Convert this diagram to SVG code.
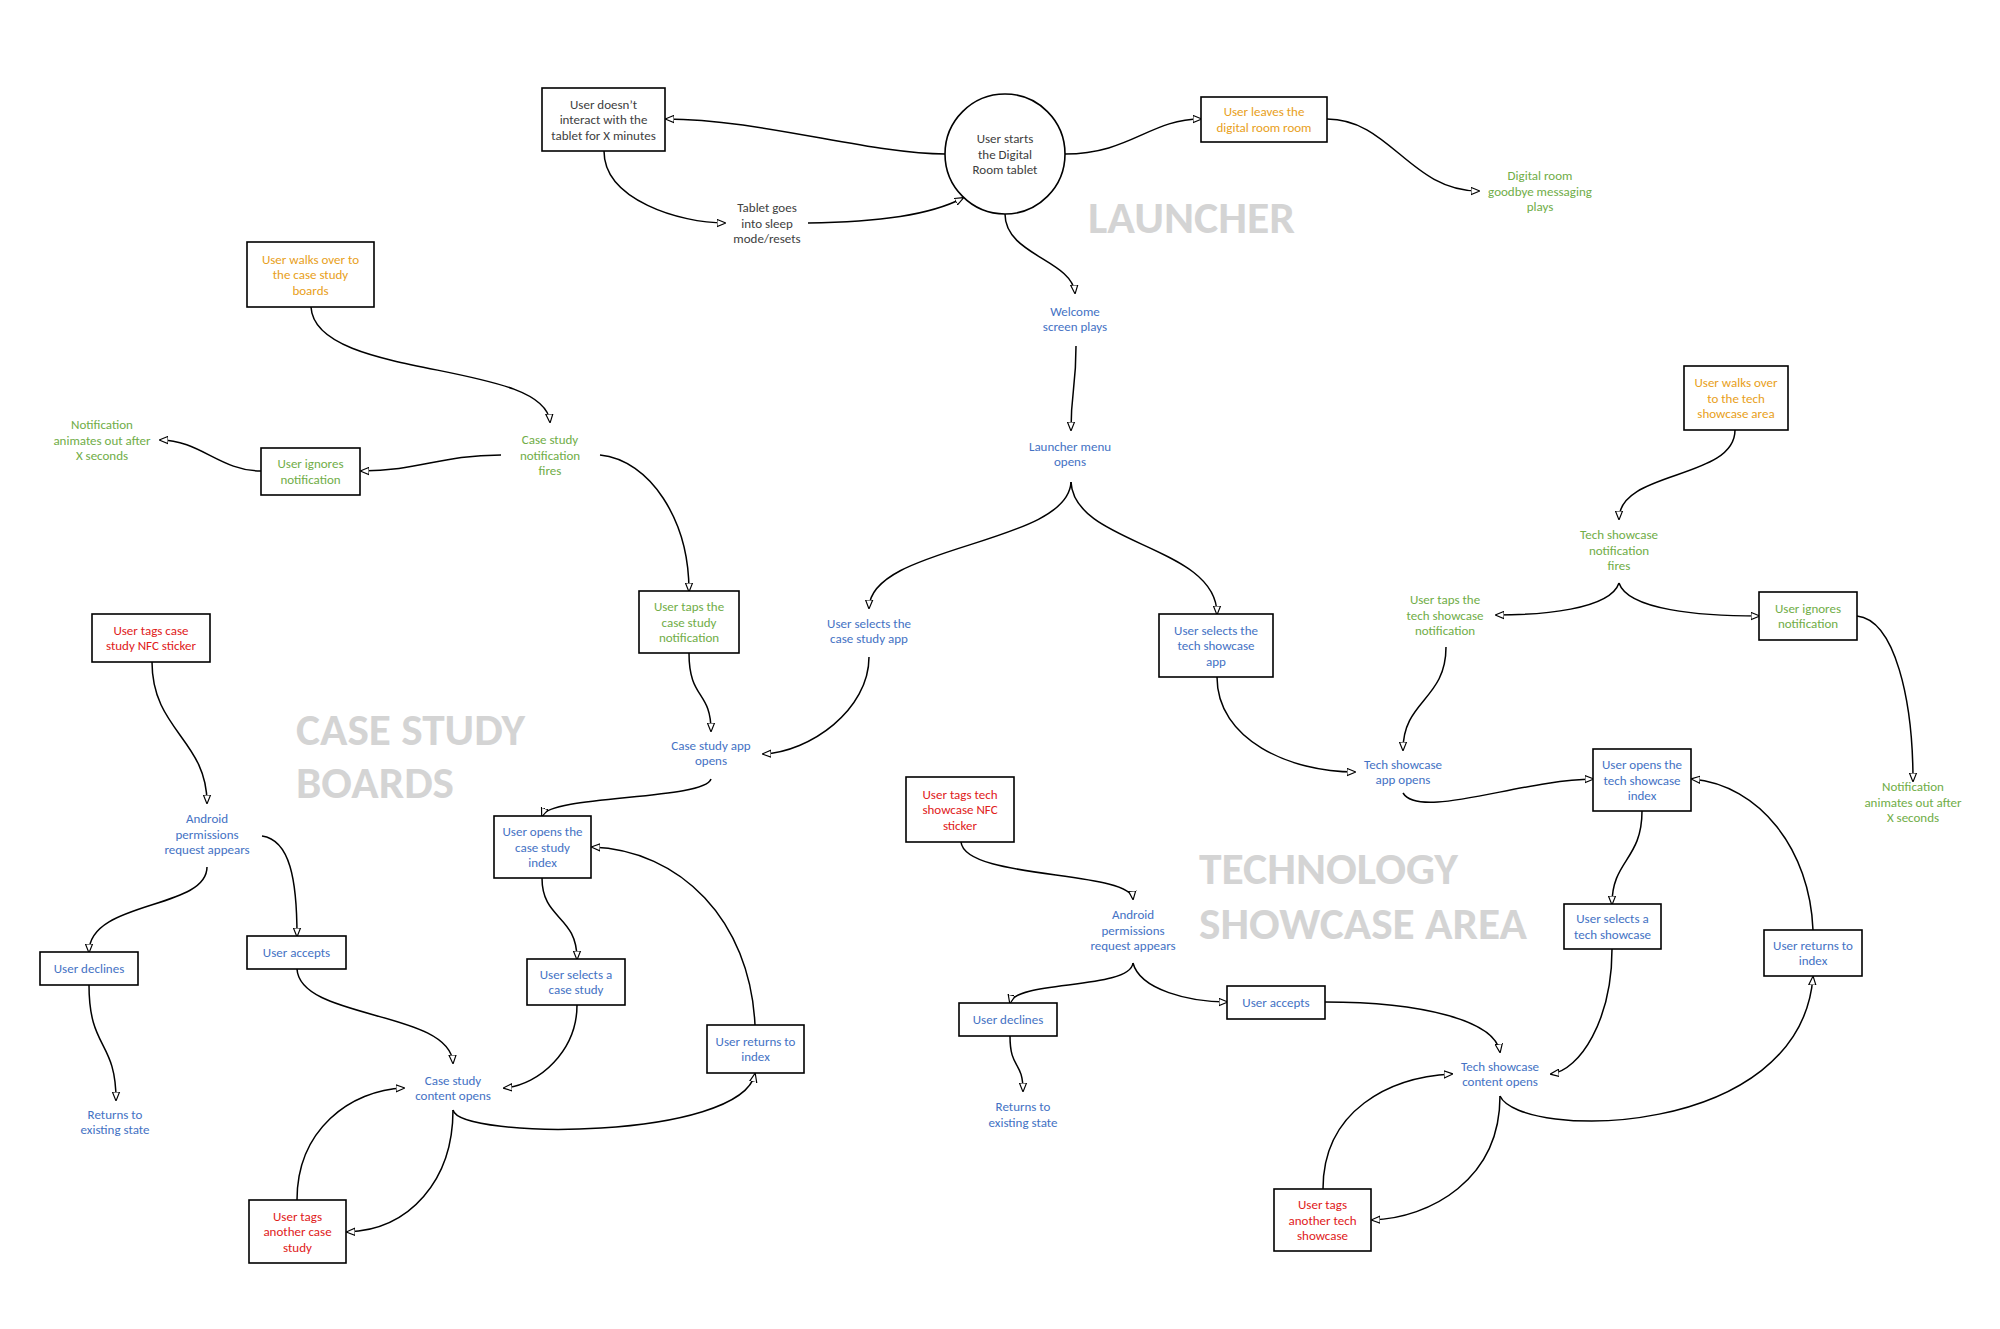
<svg xmlns="http://www.w3.org/2000/svg" width="2000" height="1329" viewBox="0 0 2000 1329">
<style>
text{font-family:Carlito,Lato,"Open Sans",sans-serif;font-size:13px;text-anchor:middle}
.hd{font-weight:bold;font-size:44px;fill:#d4d4d4;text-anchor:start}
.bx{fill:#fff;stroke:#000;stroke-width:1.6}
.gy{fill:#404040}.or{fill:#e8a020}.gr{fill:#70ad47}.bl{fill:#4472c4}.rd{fill:#e0201a}
#connectors path{fill:none;stroke:#000;stroke-width:1.5;marker-end:url(#arr)}
</style>
<defs>
<marker id="arr" viewBox="0 0 10 10" refX="9" refY="5" markerWidth="9" markerHeight="9" markerUnits="userSpaceOnUse" orient="auto">
<path d="M0,1 L10,5 L0,9 z" fill="#fff" stroke="#000" stroke-width="1.3"/>
</marker>
</defs>
<rect width="2000" height="1329" fill="#fff"/>
<g id="headers">
<text class="hd" x="1088" y="233" textLength="207" lengthAdjust="spacingAndGlyphs">LAUNCHER</text>
<text class="hd" x="296" y="745" textLength="229" lengthAdjust="spacingAndGlyphs">CASE STUDY</text>
<text class="hd" x="296" y="798" textLength="158" lengthAdjust="spacingAndGlyphs">BOARDS</text>
<text class="hd" x="1199" y="884" textLength="259" lengthAdjust="spacingAndGlyphs">TECHNOLOGY</text>
<text class="hd" x="1199" y="939" textLength="328" lengthAdjust="spacingAndGlyphs">SHOWCASE AREA</text>
</g>
<g id="connectors">
<path d="M945,154 C870,154 760,119 666,119"/>
<path d="M604,151 C604,200 680,223 725,223"/>
<path d="M808,223 C880,222 930,215 963,198"/>
<path d="M1065,154 C1130,154 1150,119 1201,119"/>
<path d="M1327,119 C1390,119 1410,191 1479,191"/>
<path d="M1005,214 C1005,255 1072,260 1075,293"/>
<path d="M1076,346 C1076,390 1071,390 1071,430"/>
<path d="M1071,482 C1068,545 870,545 869,608"/>
<path d="M1071,482 C1074,545 1217,545 1217,614"/>
<path d="M869,657 C869,710 810,752 763,754"/>
<path d="M1217,677 C1217,740 1290,772 1355,772"/>
<path d="M311,307 C315,380 545,360 550,422"/>
<path d="M501,455 C440,455 420,471 361,471"/>
<path d="M261,471 C220,471 200,440 160,440"/>
<path d="M600,455 C650,460 689,520 689,591"/>
<path d="M689,653 C689,700 711,690 711,731"/>
<path d="M711,779 C705,800 550,795 542,816"/>
<path d="M542,878 C542,920 577,915 577,959"/>
<path d="M577,1005 C577,1050 540,1085 504,1088"/>
<path d="M755,1025 C750,920 680,850 592,847"/>
<path d="M453,1110 C460,1140 740,1140 755,1074"/>
<path d="M453,1110 C453,1180 410,1230 347,1232"/>
<path d="M297,1200 C297,1130 350,1090 404,1088"/>
<path d="M152,662 C152,730 207,740 207,803"/>
<path d="M262,836 C290,840 297,880 297,936"/>
<path d="M207,867 C207,910 89,900 89,952"/>
<path d="M89,985 C89,1050 116,1040 116,1100"/>
<path d="M297,969 C300,1020 450,1010 453,1063"/>
<path d="M1735,430 C1735,480 1619,470 1619,519"/>
<path d="M1619,583 C1610,610 1540,615 1496,615"/>
<path d="M1619,583 C1628,610 1700,616 1759,616"/>
<path d="M1446,647 C1446,700 1403,700 1403,750"/>
<path d="M1857,616 C1895,620 1913,700 1913,781"/>
<path d="M1403,793 C1420,820 1520,780 1593,779"/>
<path d="M1642,811 C1642,860 1612,860 1612,904"/>
<path d="M1813,930 C1810,850 1760,785 1692,779"/>
<path d="M1612,949 C1612,1020 1580,1070 1551,1074"/>
<path d="M1500,1096 C1520,1140 1800,1140 1813,977"/>
<path d="M1500,1096 C1500,1180 1430,1218 1372,1220"/>
<path d="M1323,1189 C1323,1110 1390,1077 1452,1074"/>
<path d="M961,842 C965,880 1130,870 1133,899"/>
<path d="M1133,963 C1130,990 1015,980 1010,1003"/>
<path d="M1133,963 C1140,990 1190,1002 1227,1002"/>
<path d="M1010,1036 C1010,1070 1023,1060 1023,1091"/>
<path d="M1325,1002 C1420,1002 1495,1020 1500,1052"/>
</g>
<g id="n-inactive"><rect class="bx" x="542" y="88" width="123" height="63"/><text class="gy"><tspan x="603.5" y="108.5">User doesn’t</tspan><tspan x="603.5" y="124">interact with the</tspan><tspan x="603.5" y="139.5">tablet for X minutes</tspan></text></g>
<g id="n-start"><circle class="bx" cx="1005" cy="154" r="60"/><text class="gy"><tspan x="1005" y="143">User starts</tspan><tspan x="1005" y="158.5">the Digital</tspan><tspan x="1005" y="174">Room tablet</tspan></text></g>
<g id="n-leaves"><rect class="bx" x="1201" y="97" width="126" height="45"/><text class="or"><tspan x="1264" y="116">User leaves the</tspan><tspan x="1264" y="131.5">digital room room</tspan></text></g>
<g id="n-goodbye"><text class="gr"><tspan x="1540" y="180">Digital room</tspan><tspan x="1540" y="195.5">goodbye messaging</tspan><tspan x="1540" y="211">plays</tspan></text></g>
<g id="n-sleep"><text class="gy"><tspan x="767" y="212">Tablet goes</tspan><tspan x="767" y="227.5">into sleep</tspan><tspan x="767" y="243">mode/resets</tspan></text></g>
<g id="n-welcome"><text class="bl"><tspan x="1075" y="315.5">Welcome</tspan><tspan x="1075" y="331">screen plays</tspan></text></g>
<g id="n-menu"><text class="bl"><tspan x="1070" y="450.5">Launcher menu</tspan><tspan x="1070" y="466">opens</tspan></text></g>
<g id="n-sel-cs-app"><text class="bl"><tspan x="869" y="627.5">User selects the</tspan><tspan x="869" y="643">case study app</tspan></text></g>
<g id="n-sel-tech-app"><rect class="bx" x="1159" y="614" width="114" height="63"/><text class="bl"><tspan x="1216" y="634.5">User selects the</tspan><tspan x="1216" y="650">tech showcase</tspan><tspan x="1216" y="665.5">app</tspan></text></g>

<g id="n-cs-walk"><rect class="bx" x="247" y="242" width="127" height="65"/><text class="or"><tspan x="310.5" y="263.5">User walks over to</tspan><tspan x="310.5" y="279">the case study</tspan><tspan x="310.5" y="294.5">boards</tspan></text></g>
<g id="n-cs-notif"><text class="gr"><tspan x="550" y="444">Case study</tspan><tspan x="550" y="459.5">notification</tspan><tspan x="550" y="475">fires</tspan></text></g>
<g id="n-cs-ignore"><rect class="bx" x="261" y="448" width="99" height="47"/><text class="gr"><tspan x="310.5" y="468">User ignores</tspan><tspan x="310.5" y="483.5">notification</tspan></text></g>
<g id="n-cs-animout"><text class="gr"><tspan x="102" y="429">Notification</tspan><tspan x="102" y="444.5">animates out after</tspan><tspan x="102" y="460">X seconds</tspan></text></g>
<g id="n-cs-tap"><rect class="bx" x="639" y="591" width="100" height="62"/><text class="gr"><tspan x="689" y="611">User taps the</tspan><tspan x="689" y="626.5">case study</tspan><tspan x="689" y="642">notification</tspan></text></g>
<g id="n-cs-appopens"><text class="bl"><tspan x="711" y="749.5">Case study app</tspan><tspan x="711" y="765">opens</tspan></text></g>
<g id="n-cs-nfc"><rect class="bx" x="92" y="614" width="118" height="48"/><text class="rd"><tspan x="151" y="634.5">User tags case</tspan><tspan x="151" y="650">study NFC sticker</tspan></text></g>
<g id="n-cs-android"><text class="bl"><tspan x="207" y="823">Android</tspan><tspan x="207" y="838.5">permissions</tspan><tspan x="207" y="854">request appears</tspan></text></g>
<g id="n-cs-decline"><rect class="bx" x="40" y="952" width="98" height="33"/><text class="bl"><tspan x="89" y="973">User declines</tspan></text></g>
<g id="n-cs-returns"><text class="bl"><tspan x="115" y="1118.5">Returns to</tspan><tspan x="115" y="1134">existing state</tspan></text></g>
<g id="n-cs-accept"><rect class="bx" x="247" y="936" width="99" height="33"/><text class="bl"><tspan x="296.5" y="957">User accepts</tspan></text></g>
<g id="n-cs-index"><rect class="bx" x="494" y="816" width="97" height="62"/><text class="bl"><tspan x="542.5" y="836">User opens the</tspan><tspan x="542.5" y="851.5">case study</tspan><tspan x="542.5" y="867">index</tspan></text></g>
<g id="n-cs-select"><rect class="bx" x="527" y="959" width="98" height="46"/><text class="bl"><tspan x="576" y="978.5">User selects a</tspan><tspan x="576" y="994">case study</tspan></text></g>
<g id="n-cs-return-idx"><rect class="bx" x="707" y="1025" width="97" height="48"/><text class="bl"><tspan x="755.5" y="1045.5">User returns to</tspan><tspan x="755.5" y="1061">index</tspan></text></g>
<g id="n-cs-content"><text class="bl"><tspan x="453" y="1084.5">Case study</tspan><tspan x="453" y="1100">content opens</tspan></text></g>
<g id="n-cs-another"><rect class="bx" x="249" y="1200" width="97" height="63"/><text class="rd"><tspan x="297.5" y="1220.5">User tags</tspan><tspan x="297.5" y="1236">another case</tspan><tspan x="297.5" y="1251.5">study</tspan></text></g>

<g id="n-t-walk"><rect class="bx" x="1684" y="366" width="104" height="64"/><text class="or"><tspan x="1736" y="387">User walks over</tspan><tspan x="1736" y="402.5">to the tech</tspan><tspan x="1736" y="418">showcase area</tspan></text></g>
<g id="n-t-notif"><text class="gr"><tspan x="1619" y="539">Tech showcase</tspan><tspan x="1619" y="554.5">notification</tspan><tspan x="1619" y="570">fires</tspan></text></g>
<g id="n-t-tap"><text class="gr"><tspan x="1445" y="604">User taps the</tspan><tspan x="1445" y="619.5">tech showcase</tspan><tspan x="1445" y="635">notification</tspan></text></g>
<g id="n-t-ignore"><rect class="bx" x="1759" y="592" width="98" height="48"/><text class="gr"><tspan x="1808" y="612.5">User ignores</tspan><tspan x="1808" y="628">notification</tspan></text></g>
<g id="n-t-animout"><text class="gr"><tspan x="1913" y="791">Notification</tspan><tspan x="1913" y="806.5">animates out after</tspan><tspan x="1913" y="822">X seconds</tspan></text></g>
<g id="n-t-appopens"><text class="bl"><tspan x="1403" y="768.5">Tech showcase</tspan><tspan x="1403" y="784">app opens</tspan></text></g>
<g id="n-t-index"><rect class="bx" x="1593" y="749" width="98" height="62"/><text class="bl"><tspan x="1642" y="769">User opens the</tspan><tspan x="1642" y="784.5">tech showcase</tspan><tspan x="1642" y="800">index</tspan></text></g>
<g id="n-t-nfc"><rect class="bx" x="906" y="777" width="108" height="65"/><text class="rd"><tspan x="960" y="798.5">User tags tech</tspan><tspan x="960" y="814">showcase NFC</tspan><tspan x="960" y="829.5">sticker</tspan></text></g>
<g id="n-t-android"><text class="bl"><tspan x="1133" y="919">Android</tspan><tspan x="1133" y="934.5">permissions</tspan><tspan x="1133" y="950">request appears</tspan></text></g>
<g id="n-t-decline"><rect class="bx" x="959" y="1003" width="98" height="33"/><text class="bl"><tspan x="1008" y="1024">User declines</tspan></text></g>
<g id="n-t-returns"><text class="bl"><tspan x="1023" y="1111">Returns to</tspan><tspan x="1023" y="1126.5">existing state</tspan></text></g>
<g id="n-t-accept"><rect class="bx" x="1227" y="986" width="98" height="33"/><text class="bl"><tspan x="1276" y="1007">User accepts</tspan></text></g>
<g id="n-t-select"><rect class="bx" x="1564" y="904" width="97" height="45"/><text class="bl"><tspan x="1612.5" y="923">User selects a</tspan><tspan x="1612.5" y="938.5">tech showcase</tspan></text></g>
<g id="n-t-return-idx"><rect class="bx" x="1764" y="930" width="98" height="46"/><text class="bl"><tspan x="1813" y="949.5">User returns to</tspan><tspan x="1813" y="965">index</tspan></text></g>
<g id="n-t-content"><text class="bl"><tspan x="1500" y="1070.5">Tech showcase</tspan><tspan x="1500" y="1086">content opens</tspan></text></g>
<g id="n-t-another"><rect class="bx" x="1274" y="1189" width="97" height="62"/><text class="rd"><tspan x="1322.5" y="1209">User tags</tspan><tspan x="1322.5" y="1224.5">another tech</tspan><tspan x="1322.5" y="1240">showcase</tspan></text></g>
</svg>
